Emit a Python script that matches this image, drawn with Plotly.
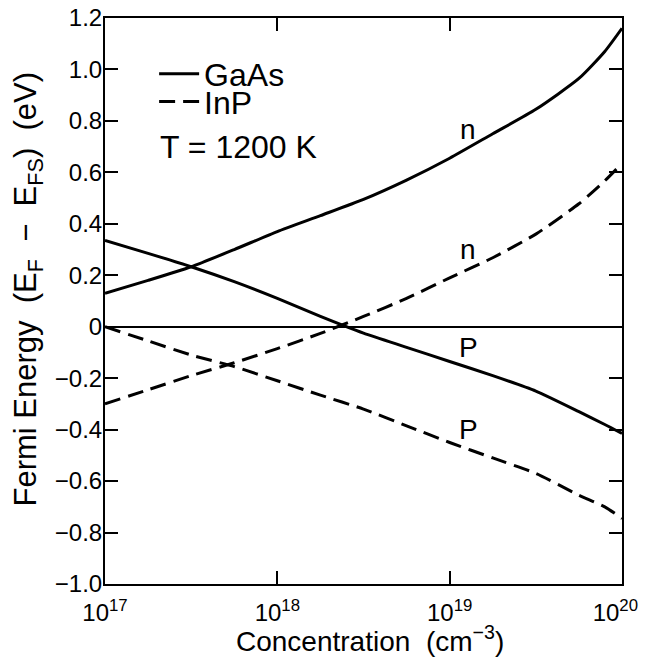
import plotly.graph_objects as go

# log10 of concentration (cm^-3)
exponents = [17.0, 17.25, 17.5, 17.75, 18.0, 18.25, 18.5, 18.75, 19.0, 19.25, 19.5, 19.75, 19.9, 20.0]
concentration = [10 ** e for e in exponents]

gaas_n = [0.13, 0.18, 0.233, 0.30, 0.37, 0.432, 0.495, 0.57, 0.655, 0.75, 0.845, 0.965, 1.07, 1.16]
gaas_p = [0.335, 0.285, 0.233, 0.175, 0.11, 0.04, -0.025, -0.08, -0.135, -0.19, -0.25, -0.33, -0.38, -0.415]
inp_n = [-0.30, -0.245, -0.19, -0.14, -0.085, -0.026, 0.04, 0.11, 0.19, 0.268, 0.36, 0.478, 0.567, 0.635]
inp_p = [0.0, -0.055, -0.11, -0.155, -0.21, -0.266, -0.32, -0.385, -0.45, -0.51, -0.57, -0.655, -0.70, -0.745]

x_tick_vals = [1e17, 1e18, 1e19, 1e20]
x_tick_text = ["10<sup>17</sup>", "10<sup>18</sup>", "10<sup>19</sup>", "10<sup>20</sup>\u00a0\u00a0"]
y_tick_vals = [-1.0, -0.8, -0.6, -0.4, -0.2, 0.0, 0.2, 0.4, 0.6, 0.8, 1.0, 1.2]
y_tick_text = ["\u22121.0", "\u22120.8", "\u22120.6", "\u22120.4", "\u22120.2", "0",
               "0.2", "0.4", "0.6", "0.8", "1.0", "1.2"]

FONT = "Liberation Sans, Arial, Helvetica, sans-serif"
DASH = "16px,8px"
LW = 3

fig = go.Figure()
fig.add_trace(go.Scatter(x=concentration, y=gaas_n, mode="lines", name="GaAs", legend="legend",
                         line=dict(color="black", width=LW, shape="spline", smoothing=0.6),
                         showlegend=True))
fig.add_trace(go.Scatter(x=concentration, y=gaas_p, mode="lines", name="GaAs",
                         line=dict(color="black", width=LW, shape="spline", smoothing=0.6),
                         showlegend=False))
fig.add_trace(go.Scatter(x=concentration, y=inp_n, mode="lines", name="InP", legend="legend2",
                         line=dict(color="black", width=LW, dash=DASH, shape="spline", smoothing=0.6),
                         showlegend=True))
fig.add_trace(go.Scatter(x=concentration, y=inp_p, mode="lines", name="InP",
                         line=dict(color="black", width=LW, dash=DASH, shape="spline", smoothing=0.6),
                         showlegend=False))

annotations = [
    dict(text="T = 1200 K", x=0.1025, y=0.772, xref="paper", yref="paper",
         xanchor="left", yanchor="middle", showarrow=False, font=dict(size=32)),
    dict(text="n", x=19.105, y=0.765, xref="x", yref="y", showarrow=False, font=dict(size=28)),
    dict(text="n", x=19.105, y=0.30, xref="x", yref="y", showarrow=False, font=dict(size=28)),
    dict(text="P", x=19.11, y=-0.08, xref="x", yref="y", showarrow=False, font=dict(size=28)),
    dict(text="P", x=19.11, y=-0.40, xref="x", yref="y", showarrow=False, font=dict(size=28)),
    dict(text="Concentration  (cm<sup>\u22123</sup>)", x=0.512, y=-0.097, xref="paper", yref="paper",
         xanchor="center", yanchor="middle", showarrow=False, font=dict(size=28)),
    dict(text="Fermi Energy  (E<sub>F</sub>  \u2212  E<sub>FS</sub>)  (eV)", x=-0.149, y=0.522,
         xref="paper", yref="paper", xanchor="center", yanchor="middle", textangle=-90,
         showarrow=False, font=dict(size=31)),
]

legend_style = dict(xanchor="left", yanchor="middle", bgcolor="rgba(0,0,0,0)",
                    font=dict(size=32), tracegroupgap=0, itemwidth=40)

fig.update_layout(
    width=641, height=654,
    margin=dict(l=97, r=27, t=10, b=78, autoexpand=False),
    paper_bgcolor="white", plot_bgcolor="white",
    font=dict(family=FONT, color="black", size=24),
    showlegend=True,
    legend=dict(x=0.095, y=0.901, **legend_style),
    legend2=dict(x=0.095, y=0.852, **legend_style),
    annotations=annotations,
)
fig.update_xaxes(type="log", range=[17, 20], tickvals=x_tick_vals, ticktext=x_tick_text,
                 showline=True, linewidth=2, linecolor="black", mirror="ticks",
                 ticks="inside", ticklen=13, tickwidth=1.5, tickcolor="black",
                 showgrid=False, zeroline=False, tickfont=dict(size=24), automargin=False,
                 ticklabelstandoff=6, ticklabeloverflow="allow")
fig.update_yaxes(range=[-1.0, 1.2], tickvals=y_tick_vals, ticktext=y_tick_text,
                 showline=True, linewidth=2, linecolor="black", mirror="ticks",
                 ticks="inside", ticklen=13, tickwidth=1.5, tickcolor="black",
                 showgrid=False, zeroline=True, zerolinewidth=1.5, zerolinecolor="black",
                 tickfont=dict(size=24), automargin=False, ticklabelstandoff=-4,
                 ticklabeloverflow="allow")

fig.write_html("out.html")
